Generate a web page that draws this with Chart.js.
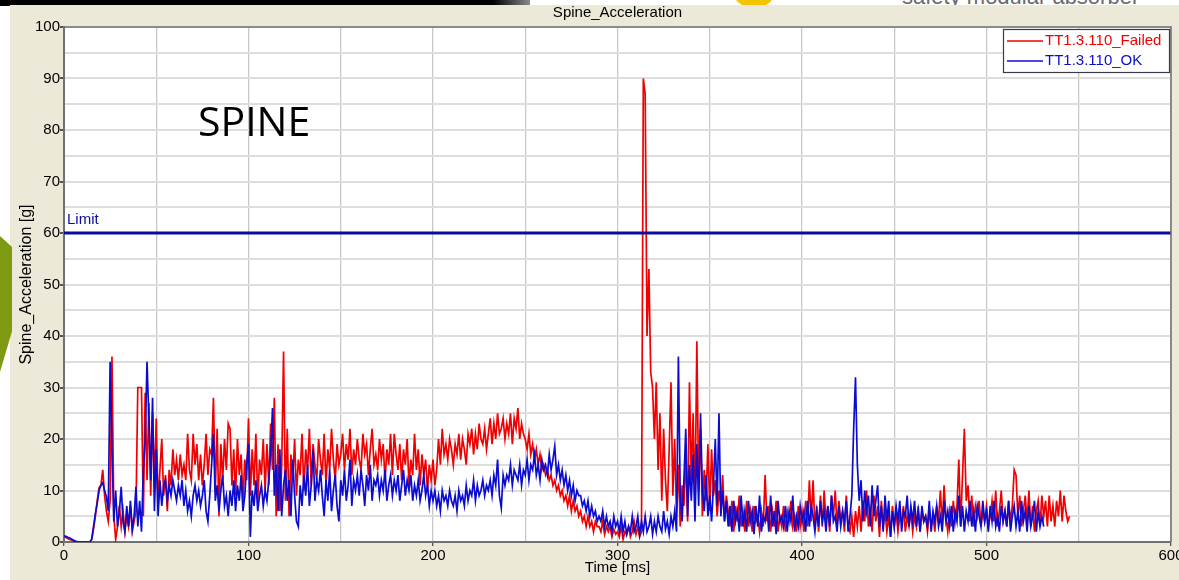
<!DOCTYPE html>
<html>
<head>
<meta charset="utf-8">
<title>Spine_Acceleration</title>
<script src="https://cdn.jsdelivr.net/npm/chart.js@4.4.1/dist/chart.umd.min.js"></script>
<style>
  html, body { margin: 0; padding: 0; }
  body {
    width: 1179px;
    height: 580px;
    overflow: hidden;
    position: relative;
    background: #ffffff;
    font-family: "Liberation Sans", Arial, sans-serif;
  }
  .slide-bar {
    position: absolute; left: 0; top: 0; width: 530px; height: 6px;
    background: linear-gradient(to right, #000 0%, #000 93%, #8a8a8a 100%);
  }
  .slide-blob {
    position: absolute; left: 732px; top: -30px; width: 44px; height: 38px;
    border-radius: 50%; background: #f5c400;
  }
  .slide-text {
    position: absolute; left: 902px; top: -16px; font-size: 22px;
    color: #6a6a6a; white-space: nowrap;
  }
  .panel {
    position: absolute; left: 10px; top: 5px; right: 0; bottom: 0;
    background: #ece9d8;
  }
  .leaf {
    position: absolute; left: 0; top: 236px; width: 12px; height: 136px;
    background: #7d9a12;
    clip-path: polygon(0 0, 100% 8%, 100% 70%, 0 100%);
  }
  #chart { position: absolute; left: 0; top: 0; }
</style>
</head>
<body>
<div class="slide-bar"></div>
<div class="slide-blob"></div>
<div class="slide-text">safety modular absorber</div>
<div class="panel"></div>
<div class="leaf"></div>
<canvas id="chart" width="1179" height="580"></canvas>

<script>
/* Spine acceleration, one value per ms */

const timeStepMs = 1;

const failedValues = [
  1.0, 0.9, 0.7, 0.5, 0.4, 0.2, 0.1, 0, 0, 0,
  0, 0, 0, 0, 0, 0.5, 2.5, 5, 8, 10.5,
  11, 14, 9, 6, 4, 8, 36, 5, 0.5, 3,
  7, 3, 6, 2, 5, 3, 7, 2, 4, 6,
  30, 30, 30, 5, 29, 12, 27, 9, 25, 11,
  24, 7, 14, 20, 9, 13, 6, 14, 11, 18,
  13, 16, 12, 17, 13, 15, 12, 21, 14, 12,
  21, 15, 19, 12, 17, 11, 15, 21, 13, 18,
  17, 28, 10, 22, 5, 19, 12, 20, 14, 23,
  22, 11, 18, 9, 20, 13, 17, 8, 16, 12,
  24, 9, 18, 11, 21, 8, 16, 13, 20, 10,
  19, 11, 23, 14, 28, 5, 19, 6, 15, 37,
  8, 22, 5, 17, 12, 20, 9, 16, 13, 21,
  10, 18, 14, 22, 11, 19, 15, 12, 20, 16,
  13, 21, 11, 18, 14, 22, 16, 12, 19, 15,
  17, 21, 14, 19, 16, 22, 13, 18, 15, 20,
  16, 14, 21, 17, 19, 13, 18, 22, 15, 17,
  14, 20, 16, 19, 12, 18, 15, 21, 13, 21,
  17, 14, 19, 12, 18, 15, 20, 11, 16, 13,
  21, 14, 18, 11, 17, 13, 16, 10, 15, 12,
  16, 11, 14, 20, 15, 22, 17, 19, 16, 20,
  18, 15, 19, 17, 21, 16, 20, 18, 15, 21,
  19, 22, 17, 21, 18, 23, 20, 19, 22, 18,
  21, 24, 19, 23, 20, 25, 21, 22, 24, 20,
  23, 21, 25, 19, 24, 22, 26, 20, 23, 21,
  20, 18, 21, 17, 19, 16, 18, 15, 17, 14,
  15, 13, 14, 12, 13, 11, 12, 10, 11, 9,
  10, 8, 9, 7, 9, 6, 8, 6, 7, 5,
  6, 4, 5, 3, 5, 3, 4, 2, 4, 3,
  3, 2, 4, 1.5, 3, 2, 3, 1, 2.5, 1.5,
  2, 1, 3, 0.5, 2, 1.5, 3, 1, 2, 4,
  1.5, 3, 1, 2, 90, 87, 40, 53, 33, 30,
  20, 31, 14, 25, 8, 22, 12, 6, 18, 31,
  9, 20, 5, 15, 3, 11, 7, 17, 4, 31,
  12, 25, 6, 39, 10, 22, 5, 14, 8, 19,
  6, 18, 9, 12, 5, 10, 7, 13, 4, 9,
  6, 3, 8, 2, 7, 4, 9, 3, 6, 2,
  8, 3, 6, 2, 7, 4, 5, 2, 6, 3,
  13, 4, 7, 2, 6, 3, 8, 2, 5, 3,
  7, 2, 6, 4, 8, 3, 5, 2, 7, 3,
  6, 2, 8, 3, 12, 4, 12, 3, 7, 2,
  9, 3, 10, 4, 7, 2, 9, 5, 10, 3,
  8, 4, 6, 2, 9, 3, 2, 5, 1, 6,
  3, 7, 2, 8, 4, 10, 3, 6, 2, 9,
  4, 7, 1, 8, 3, 6, 2, 5, 1, 7,
  3, 6, 2, 5, 4, 7, 2, 5, 3, 6,
  2, 5, 3, 7, 2, 6, 4, 5, 2, 6,
  3, 5, 2, 7, 4, 10, 3, 11, 5, 2,
  6, 3, 8, 4, 7, 16, 3, 13, 22, 8,
  11, 4, 9, 3, 7, 5, 8, 3, 6, 4,
  7, 3, 5, 8, 4, 10, 3, 6, 10, 4,
  6, 3, 8, 4, 7, 14, 13, 5, 9, 3,
  6, 9, 4, 10, 3, 7, 2, 6, 8, 3,
  9, 5, 8, 3, 9, 4, 7, 3, 8, 5,
  10, 4, 9, 6, 4, 5
];

const okValues = [
  1.2, 1.1, 0.9, 0.8, 0.6, 0.4, 0.2, 0.1, 0, 0,
  0, 0, 0, 0, 0, 0.5, 3, 5.5, 7.5, 10,
  11, 11.5, 10, 8.8, 6, 35, 18, 4, 10, 3,
  6, 10.7, 4, 2, 7, 3, 8, 2.5, 5, 10.7,
  3, 8, 2, 14, 20, 35, 24, 12, 28, 6,
  18, 5, 12, 7, 11, 12, 8, 11, 9, 12,
  10, 8, 11, 9, 12, 7, 10, 6, 8, 5,
  9, 11, 8, 10, 7, 9, 12, 6, 4, 9,
  15, 21, 8, 11, 6, 10, 13, 7, 9, 5,
  10, 7, 12, 6, 11, 8, 13, 6, 9, 15,
  19, 1, 10, 7, 12, 6, 9, 11, 7, 10,
  8, 12, 17, 26, 9, 15, 6, 18, 5, 11,
  14, 8, 12, 5, 16, 9, 4, 3, 11, 7,
  13, 9, 15, 7, 11, 18, 8, 12, 10, 14,
  9, 5, 12, 8, 14, 6, 10, 13, 7, 4,
  12, 9, 14, 8, 11, 16, 7, 12, 10, 13,
  9, 14, 11, 7, 13, 10, 15, 8, 12, 11,
  13, 9, 12, 10, 14, 8, 11, 13, 9, 12,
  10, 13, 8, 11, 14, 9, 12, 10, 13, 8,
  11, 9, 12, 8, 10, 13, 9, 11, 7, 10,
  8, 10, 7, 9, 6, 10, 8, 9, 7, 10,
  8, 7, 9, 6, 10, 8, 9, 7, 11, 8,
  10, 9, 12, 8, 11, 9, 10, 12, 9, 11,
  10, 12, 9, 13, 11, 16, 9, 6.6, 13, 11,
  13, 12, 15, 11, 14, 13, 12, 15, 11, 14,
  13, 16, 12, 15, 14, 17, 13, 15, 12, 16,
  14, 15, 13, 17, 14, 16, 18.6, 13, 15, 12,
  14, 11, 13, 10, 12, 9, 11, 8, 10, 9,
  9, 7, 8, 6, 8, 5, 7, 5, 6, 4,
  5, 4, 6, 3, 5, 3, 4, 2, 5, 3,
  4, 2, 5, 2, 4, 1.5, 3, 2, 5, 2,
  3, 5, 1.5, 4, 2, 5, 2, 3, 5, 1.5,
  4, 2, 5, 3, 2, 6, 2.5, 4, 1.5, 5,
  3, 6, 2, 36, 9, 4, 12, 22, 5, 15,
  8, 17, 4, 19, 7, 25, 10, 6, 13, 5,
  9, 4, 11, 20, 7, 25, 5, 10, 4, 8,
  3, 7, 2, 8, 4, 6, 2, 9, 3, 6,
  2, 8, 4, 6, 1.5, 7, 3, 9, 2, 5,
  4, 7, 2, 9, 3, 6, 1.5, 8, 4, 5,
  3, 7, 2, 6, 4, 9, 2, 5, 3, 7,
  4, 6, 2, 8, 3, 7, 5, 2, 6, 3,
  8, 4, 6, 2, 7, 3, 9, 4, 5, 2,
  7, 3, 6, 4, 8, 2, 5, 9, 22, 32,
  15, 8, 12, 4, 10, 6, 9, 3, 11, 5,
  8, 11, 3, 7, 2, 9, 4, 8, 1, 6,
  3, 7, 4, 8, 2, 6, 5, 9, 3, 7,
  4, 8, 3, 6, 2, 7, 4, 5, 3, 8,
  2, 6, 4, 7, 3, 5, 2, 8, 4, 6,
  3, 7, 2, 6, 4, 9, 3, 7, 2, 6,
  4, 8, 3, 6, 2, 7, 5, 3, 8, 4,
  6, 2, 7, 4, 8, 3, 5, 2, 7, 4,
  6, 3, 8, 2, 5, 7, 3, 6, 2, 8,
  4, 6, 2, 7, 3, 5, 8, 2, 6, 3,
  5, 3
];

const seriesLabels = ["TT1.3.110_Failed", "TT1.3.110_OK"];
const seriesColors = ["#f00000", "#0c0cd0"];
const limitValue = 60;
const limitColor = "#0c0c9a";
const timeRange = [0, 600];
const accelRange = [0, 100];

function toPoints(values) {
  return values.map((value, index) => ({ x: index * timeStepMs, y: value }));
}

/* Plot background and frame */

const plotFrame = {
  id: "plotFrame",
  beforeDraw(chart) {
    const { ctx, chartArea } = chart;
    ctx.save();
    ctx.fillStyle = "#ffffff";
    ctx.fillRect(chartArea.left, chartArea.top, chartArea.width, chartArea.height);
    ctx.restore();
  },
  afterDatasetsDraw(chart) {
    const { ctx, chartArea } = chart;
    ctx.save();
    ctx.strokeStyle = "#707070";
    ctx.lineWidth = 1.5;
    ctx.beginPath();
    ctx.moveTo(chartArea.left, chartArea.top);
    ctx.lineTo(chartArea.right, chartArea.top);
    ctx.lineTo(chartArea.right, chartArea.bottom);
    ctx.stroke();
    ctx.restore();
  },
};

/* Limit label and the big SPINE caption */

const plotTexts = {
  id: "plotTexts",
  afterDatasetsDraw(chart) {
    const { ctx, chartArea } = chart;
    const x = chart.scales.x;
    const y = chart.scales.y;

    ctx.save();
    ctx.textBaseline = "middle";
    ctx.textAlign = "left";

    ctx.fillStyle = limitColor;
    ctx.font = '15px "Liberation Sans", Arial, sans-serif';
    ctx.fillText("Limit", x.getPixelForValue(0) + 3, y.getPixelForValue(limitValue) - 13);

    ctx.fillStyle = "#000000";
    ctx.font = '41px "Open Sans", sans-serif';
    ctx.fillText("SPINE", chartArea.left + 134, chartArea.top + 97);
    ctx.restore();
  },
};

/* Legend in a box, top right inside the plot */

const boxLegend = {
  id: "boxLegend",
  afterDraw(chart) {
    const { ctx, chartArea } = chart;
    const items = chart.data.datasets.filter((dataset) => dataset.inLegend);
    const right = chartArea.right - 2;
    const left = right - 166;
    const top = chartArea.top + 2;
    const rowHeight = 20;

    ctx.save();
    ctx.fillStyle = "#ffffff";
    ctx.fillRect(left, top, right - left, 43);
    ctx.strokeStyle = "#3a3a4a";
    ctx.lineWidth = 1.2;
    ctx.strokeRect(left + 0.5, top + 0.5, right - left, 43);

    ctx.font = '15px "Liberation Sans", Arial, sans-serif';
    ctx.textBaseline = "middle";
    items.forEach((dataset, i) => {
      const rowY = top + 12 + i * rowHeight;
      ctx.strokeStyle = dataset.borderColor;
      ctx.lineWidth = 1.5;
      ctx.beginPath();
      ctx.moveTo(left + 4, rowY);
      ctx.lineTo(left + 40, rowY);
      ctx.stroke();
      ctx.fillStyle = dataset.borderColor;
      ctx.fillText(dataset.label, left + 42, rowY);
    });
    ctx.restore();
  },
};

const chartCanvas = document.getElementById("chart");

new Chart(chartCanvas, {
  type: "line",
  data: {
    datasets: [
      {
        label: seriesLabels[0],
        data: toPoints(failedValues),
        borderColor: seriesColors[0],
        borderWidth: 1.7,
        pointRadius: 0,
        order: 2,
        inLegend: true,
      },
      {
        label: seriesLabels[1],
        data: toPoints(okValues),
        borderColor: seriesColors[1],
        borderWidth: 1.7,
        pointRadius: 0,
        order: 1,
        inLegend: true,
      },
      {
        label: "Limit",
        data: [
          { x: timeRange[0], y: limitValue },
          { x: timeRange[1], y: limitValue },
        ],
        borderColor: limitColor,
        borderWidth: 3,
        pointRadius: 0,
        order: 0,
        inLegend: false,
      },
    ],
  },
  options: {
    responsive: false,
    animation: false,
    devicePixelRatio: 1,
    parsing: false,
    normalized: true,
    layout: {
      padding: { top: 0, right: 8, bottom: 0, left: 0 },
    },
    elements: {
      line: { tension: 0 },
    },
    plugins: {
      legend: { display: false },
      tooltip: { enabled: false },
      title: {
        display: true,
        text: "Spine_Acceleration",
        fullSize: false,
        color: "#000000",
        font: { family: "Liberation Sans", size: 15, weight: "normal" },
        padding: { top: 4, bottom: 5 },
      },
    },
    scales: {
      x: {
        type: "linear",
        min: timeRange[0],
        max: timeRange[1],
        afterFit: function (scale) {
          scale.height = 38;
          scale.paddingLeft = 0;
          scale.paddingRight = 0;
        },
        ticks: {
          stepSize: 50,
          autoSkip: false,
          maxRotation: 0,
          padding: 1,
          color: "#000000",
          font: { family: "Liberation Sans", size: 15 },
          callback: function (value) {
            return value % 100 === 0 ? value : "";
          },
        },
        grid: {
          color: "#c8c8c8",
          lineWidth: 1.3,
          tickLength: 4,
          tickColor: function (context) {
            return context.tick && context.tick.value % 100 === 0 ? "#555555" : "rgba(0,0,0,0)";
          },
        },
        border: { color: "#707070", width: 2 },
        title: {
          display: true,
          text: "Time [ms]",
          color: "#000000",
          font: { family: "Liberation Sans", size: 15 },
          padding: { top: 0, bottom: 3 },
        },
      },
      y: {
        min: accelRange[0],
        max: accelRange[1],
        afterFit: function (scale) {
          scale.width = 64;
          scale.paddingTop = 0;
          scale.paddingBottom = 0;
        },
        ticks: {
          stepSize: 5,
          autoSkip: false,
          padding: 0,
          color: "#000000",
          font: { family: "Liberation Sans", size: 15 },
          callback: function (value) {
            return value % 10 === 0 ? value : "";
          },
        },
        grid: {
          color: "#dddddd",
          lineWidth: 2,
          tickLength: 4,
          tickColor: function (context) {
            return context.tick && context.tick.value % 10 === 0 ? "#555555" : "rgba(0,0,0,0)";
          },
        },
        border: { color: "#707070", width: 2 },
        title: {
          display: true,
          text: "Spine_Acceleration [g]",
          color: "#000000",
          font: { family: "Liberation Sans", size: 16 },
          padding: { top: 17, bottom: 0 },
        },
      },
    },
  },
  plugins: [plotFrame, plotTexts, boxLegend],
});
</script>
</body>
</html>
